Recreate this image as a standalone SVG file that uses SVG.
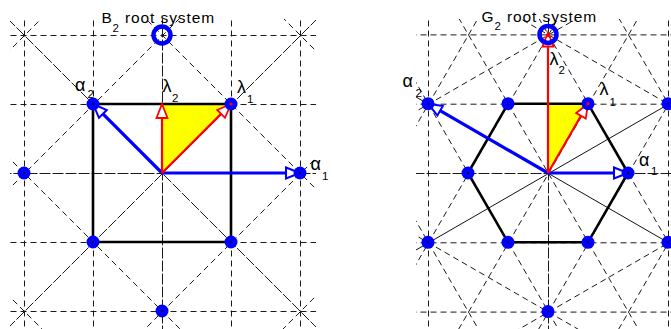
<svg xmlns="http://www.w3.org/2000/svg" width="671" height="329" viewBox="0 0 671 329">
<style>
.d{stroke:#1a1a1a;stroke-width:1;stroke-dasharray:6 4;fill:none}
.m{stroke:#1a1a1a;stroke-width:1;stroke-dasharray:11 2;fill:none}
.s{stroke:#111;stroke-width:1;fill:none}
.ch{fill:#ff0;stroke:none}
.poly{fill:none;stroke:#000;stroke-width:2.6;stroke-linejoin:miter}
.ab{stroke:#00f;stroke-width:3.2;fill:none}
.ar{stroke:#f00;stroke-width:2.2;fill:none}
.dot{fill:#00f}
.ring{fill:none;stroke:#00f;stroke-width:4.5}
.c{fill:#000}
.cr{fill:#f00}
text{font-family:"Liberation Sans",Arial,sans-serif;fill:#000}
.t{font-size:15.5px}
.g{font-size:18px}
.sub{font-size:11.5px}
</style>
<defs>
<clipPath id="clipB"><rect x="10" y="19" width="306" height="312"/></clipPath>
<clipPath id="clipG"><rect x="416" y="19" width="260" height="312"/></clipPath>
<marker id="hb" markerUnits="userSpaceOnUse" viewBox="-3 -9 20 18" markerWidth="20" markerHeight="18" refX="0" refY="0" orient="auto" overflow="visible"><path d="M0,-5.5 L14,0 L0,5.5 Z" fill="#fff" stroke="#00f" stroke-width="2"/></marker>
<marker id="hr" markerUnits="userSpaceOnUse" viewBox="-3 -9 20 18" markerWidth="20" markerHeight="18" refX="0" refY="0" orient="auto" overflow="visible"><path d="M0,-5.5 L14,0 L0,5.5 Z" fill="#fff" stroke="#f00" stroke-width="1.8"/></marker>
</defs>
<rect width="671" height="329" fill="#fff"/>

<!-- ===== B2 panel ===== -->
<g id="b2">
<g id="b2-grid" clip-path="url(#clipB)">
<g transform="translate(0.5 0.5)">
<line class="d" x1="24" y1="0" x2="24" y2="335"/>
<line class="d" x1="93" y1="0" x2="93" y2="335"/>
<line class="d" x1="231" y1="0" x2="231" y2="335"/>
<line class="d" x1="300" y1="0" x2="300" y2="335"/>
<line class="m" x1="162" y1="0" x2="162" y2="335"/>
<line class="d" x1="0" y1="35" x2="330" y2="35"/>
<line class="d" x1="0" y1="104" x2="330" y2="104"/>
<line class="d" x1="0" y1="242" x2="330" y2="242"/>
<line class="d" x1="0" y1="311" x2="330" y2="311"/>
<line class="m" x1="0" y1="173" x2="330" y2="173"/>
<line class="d" x1="-30" y1="257" x2="350" y2="637"/>
<line class="d" x1="-30" y1="119" x2="350" y2="499"/>
<line class="m" x1="-30" y1="-19" x2="350" y2="361"/>
<line class="d" x1="-30" y1="-157" x2="350" y2="223"/>
<line class="d" x1="-30" y1="-295" x2="350" y2="85"/>
<line class="d" x1="-30" y1="89" x2="350" y2="-291"/>
<line class="d" x1="-30" y1="227" x2="350" y2="-153"/>
<line class="m" x1="-30" y1="365" x2="350" y2="-15"/>
<line class="d" x1="-30" y1="503" x2="350" y2="123"/>
<line class="d" x1="-30" y1="641" x2="350" y2="261"/>
</g>
</g>
<g id="b2-chamber"><polygon class="ch" points="162,173 162,104 231,104"/></g>
<g id="b2-square"><polygon class="poly" points="93,104 231,104 231,242 93,242"/></g>
<g id="b2-arrows">
<line class="ab" x1="162" y1="173" x2="286" y2="173" marker-end="url(#hb)"/>
<line class="ab" x1="162" y1="173" x2="102.9" y2="113.9" marker-end="url(#hb)"/>
<line class="ar" x1="162" y1="173" x2="221.1" y2="113.9" marker-end="url(#hr)"/>
<line class="ar" x1="162" y1="173" x2="162" y2="118" marker-end="url(#hr)"/>
</g>
<g id="b2-roots">
<g id="b2-r1"><circle class="dot" cx="300" cy="173" r="6.5"/><circle class="c" cx="300" cy="173" r="1"/></g>
<g id="b2-r2"><circle class="dot" cx="93" cy="104" r="6.5"/><circle class="c" cx="93" cy="104" r="1"/></g>
<g id="b2-r3"><circle class="dot" cx="231" cy="104" r="6.5"/><circle class="cr" cx="231" cy="104" r="1.6"/></g>
<g id="b2-r4"><circle class="dot" cx="24" cy="173" r="6.5"/><circle class="c" cx="24" cy="173" r="1"/></g>
<g id="b2-r5"><circle class="dot" cx="93" cy="242" r="6.5"/><circle class="c" cx="93" cy="242" r="1"/></g>
<g id="b2-r6"><circle class="dot" cx="231" cy="242" r="6.5"/><circle class="c" cx="231" cy="242" r="1"/></g>
<g id="b2-r7"><circle class="dot" cx="162" cy="311" r="6.5"/><circle class="c" cx="162" cy="311" r="1"/></g>
<g id="b2-highest"><circle class="ring" cx="162" cy="35" r="8.5"/></g>
</g>
<g id="b2-labels">
<text class="t" x="101.5" y="22.5">B<tspan class="sub" x="112.5" y="31.5">2</tspan><tspan x="125" y="22.5" letter-spacing="0.9">root system</tspan></text>
<text class="g" x="75" y="90.5">α<tspan class="sub" x="87.5" y="97.5">2</tspan></text>
<text class="g" x="162.5" y="92">λ<tspan class="sub" x="172" y="101.5">2</tspan></text>
<text class="g" x="237" y="93">λ<tspan class="sub" x="247" y="103">1</tspan></text>
<text class="g" x="310.5" y="170">α<tspan class="sub" x="322" y="180">1</tspan></text>
</g>
</g>

<!-- ===== G2 panel ===== -->
<g id="g2">
<g id="g2-grid" clip-path="url(#clipG)">
<g transform="translate(0.5 0.5)">
<line class="d" x1="400" y1="34.4" x2="680" y2="34.4"/>
<line class="d" x1="400" y1="103.7" x2="680" y2="103.7"/>
<line class="m" x1="400" y1="173" x2="680" y2="173"/>
<line class="d" x1="400" y1="242.3" x2="680" y2="242.3"/>
<line class="d" x1="400" y1="311.6" x2="680" y2="311.6"/>
<line class="d" x1="428" y1="0" x2="428" y2="335"/>
<line class="m" x1="548" y1="0" x2="548" y2="335"/>
<line class="d" x1="668" y1="0" x2="668" y2="335"/>
<line class="d" x1="288" y1="-0.2" x2="488" y2="346.2"/>
<line class="d" x1="368" y1="-0.2" x2="568" y2="346.2"/>
<line class="d" x1="448" y1="-0.2" x2="648" y2="346.2"/>
<line class="d" x1="528" y1="-0.2" x2="728" y2="346.2"/>
<line class="d" x1="608" y1="-0.2" x2="808" y2="346.2"/>
<line class="d" x1="288" y1="346.2" x2="488" y2="-0.2"/>
<line class="d" x1="368" y1="346.2" x2="568" y2="-0.2"/>
<line class="d" x1="448" y1="346.2" x2="648" y2="-0.2"/>
<line class="d" x1="528" y1="346.2" x2="728" y2="-0.2"/>
<line class="d" x1="608" y1="346.2" x2="808" y2="-0.2"/>
<line class="d" x1="374.8" y1="134.4" x2="721.2" y2="-65.6"/>
<line class="s" x1="374.8" y1="273" x2="721.2" y2="73"/>
<line class="d" x1="374.8" y1="411.6" x2="721.2" y2="211.6"/>
<line class="d" x1="374.8" y1="-65.6" x2="721.2" y2="134.4"/>
<line class="s" x1="374.8" y1="73" x2="721.2" y2="273"/>
<line class="d" x1="374.8" y1="211.6" x2="721.2" y2="411.6"/>
</g>
</g>
<g id="g2-chamber"><polygon class="ch" points="548,173 548,103.7 588,103.7"/></g>
<g id="g2-hexagon"><polygon class="poly" points="628,173 588,103.7 508,103.7 468,173 508,242.3 588,242.3"/></g>
<g id="g2-arrows">
<line class="ab" x1="548" y1="173" x2="614" y2="173" marker-end="url(#hb)"/>
<line class="ab" x1="548" y1="173" x2="440.1" y2="110.7" marker-end="url(#hb)"/>
<line class="ar" x1="548" y1="173" x2="581" y2="115.8" marker-end="url(#hr)"/>
<line class="ar" x1="548" y1="173" x2="548" y2="46.5" marker-end="url(#hr)"/>
</g>
<g id="g2-roots">
<g id="g2-r1"><circle class="dot" cx="628" cy="173" r="6.5"/><circle class="c" cx="628" cy="173" r="1"/></g>
<g id="g2-r2"><circle class="dot" cx="588" cy="103.7" r="6.5"/><circle class="cr" cx="588" cy="103.7" r="1.6"/></g>
<g id="g2-r3"><circle class="dot" cx="508" cy="103.7" r="6.5"/><circle class="c" cx="508" cy="103.7" r="1"/></g>
<g id="g2-r4"><circle class="dot" cx="468" cy="173" r="6.5"/><circle class="c" cx="468" cy="173" r="1"/></g>
<g id="g2-r5"><circle class="dot" cx="508" cy="242.3" r="6.5"/><circle class="c" cx="508" cy="242.3" r="1"/></g>
<g id="g2-r6"><circle class="dot" cx="588" cy="242.3" r="6.5"/><circle class="c" cx="588" cy="242.3" r="1"/></g>
<g id="g2-r7"><circle class="dot" cx="428" cy="103.7" r="6.5"/><circle class="c" cx="428" cy="103.7" r="1"/></g>
<g id="g2-r8"><circle class="dot" cx="428" cy="242.3" r="6.5"/><circle class="c" cx="428" cy="242.3" r="1"/></g>
<g id="g2-r9"><circle class="dot" cx="548" cy="311.6" r="6.5"/><circle class="c" cx="548" cy="311.6" r="1"/></g>
<g id="g2-r10"><circle class="dot" cx="668" cy="103.7" r="6.5"/><circle class="c" cx="668" cy="103.7" r="1"/></g>
<g id="g2-r11"><circle class="dot" cx="668" cy="242.3" r="6.5"/><circle class="c" cx="668" cy="242.3" r="1"/></g>
<g id="g2-highest"><circle class="ring" cx="548" cy="34.4" r="8.5"/><circle class="cr" cx="548" cy="35.5" r="1.8"/></g>
</g>
<g id="g2-labels">
<text class="t" x="481.5" y="21.5">G<tspan class="sub" x="494.5" y="29.5">2</tspan><tspan x="507" y="21.5" letter-spacing="0.9">root system</tspan></text>
<text class="g" x="402.5" y="87">α<tspan class="sub" x="415.5" y="97">2</tspan></text>
<text class="g" x="549.5" y="65">λ<tspan class="sub" x="558.5" y="74">2</tspan></text>
<text class="g" x="599.5" y="95">λ<tspan class="sub" x="609.5" y="106">1</tspan></text>
<text class="g" x="639" y="166">α<tspan class="sub" x="651" y="174.5">1</tspan></text>
</g>
</g>
</svg>
